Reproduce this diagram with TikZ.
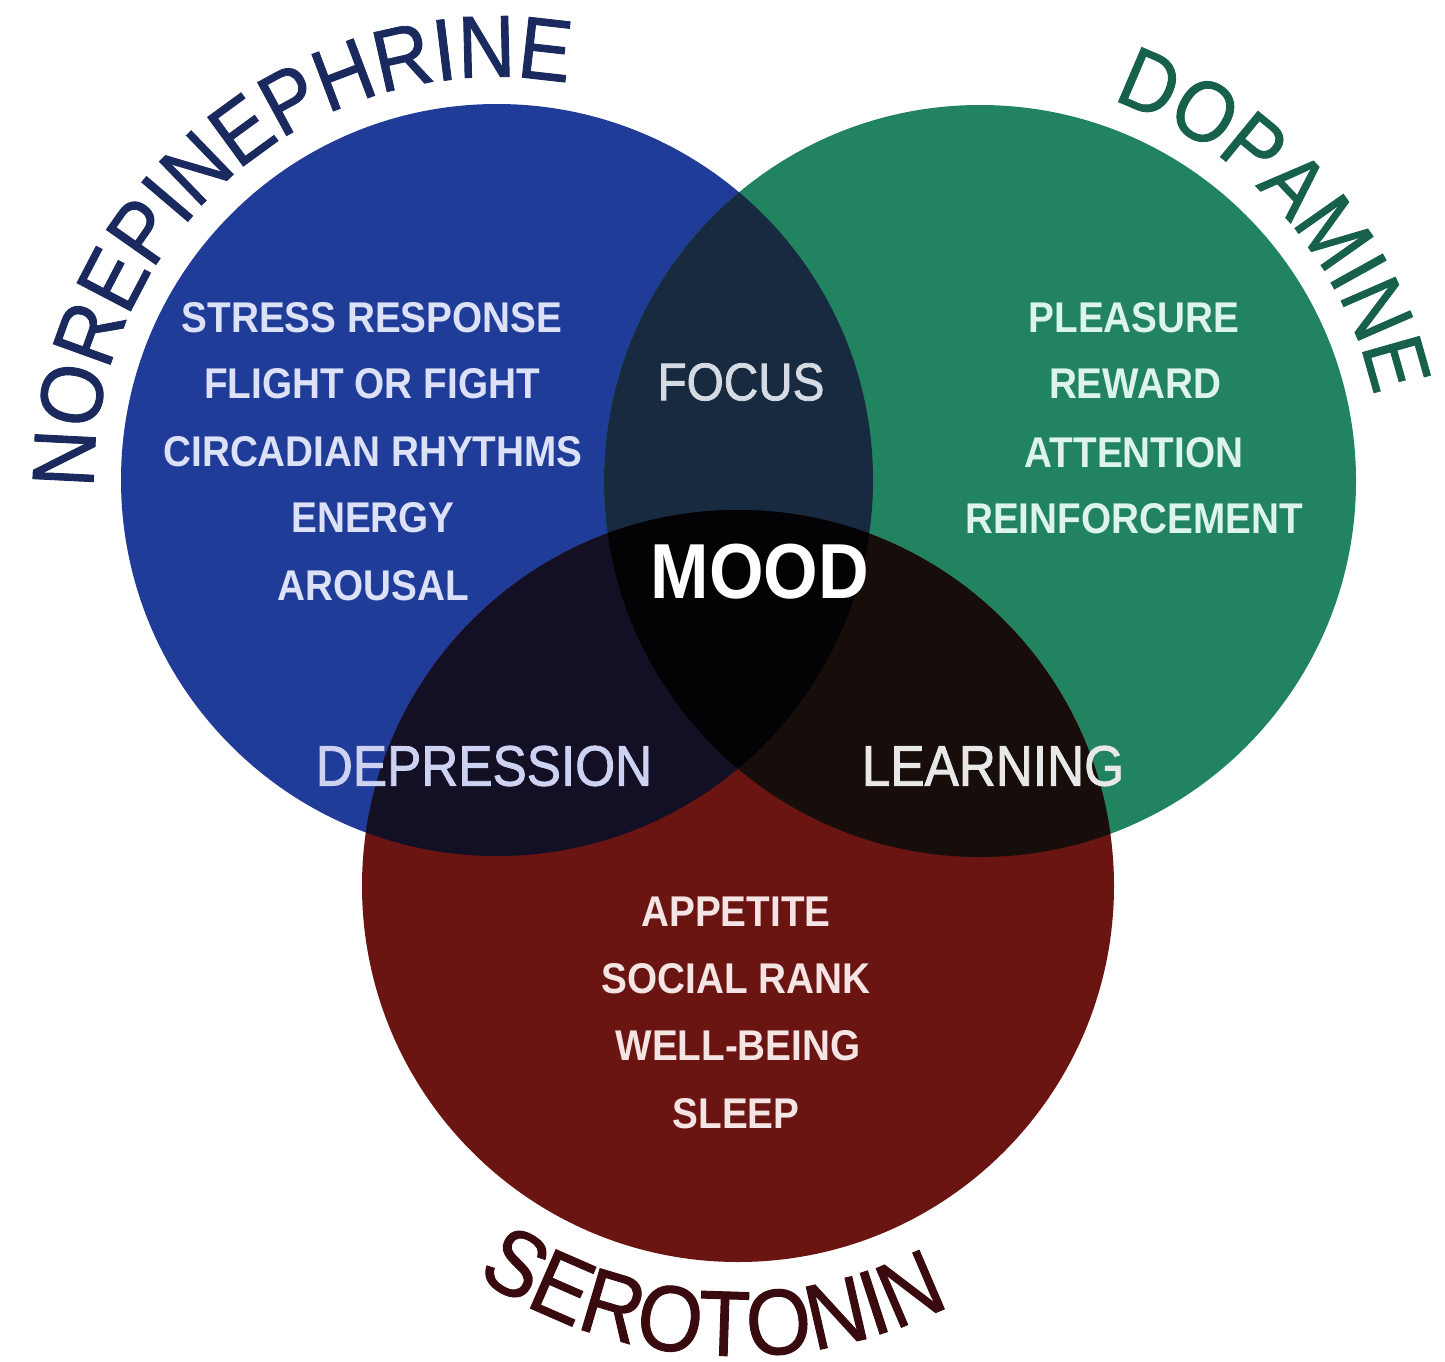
\documentclass[tikz,border=0pt]{standalone}
\usepackage{fontspec}
\usetikzlibrary{decorations.text}
\newfontfamily\lsreg[FakeStretch=0.9]{Liberation Sans}
\newfontfamily\lsmed[FakeStretch=0.9,FakeBold=1.5]{Liberation Sans}
\newfontfamily\lstitle[FakeStretch=0.9,FakeBold=1]{Liberation Sans}
\definecolor{cblue}{HTML}{1F3D98}
\definecolor{cgreen}{HTML}{21835F}
\definecolor{cred}{HTML}{6A1512}
\definecolor{cbg}{HTML}{172A40}
\definecolor{cbr}{HTML}{130F24}
\definecolor{cgr}{HTML}{170D0B}
\definecolor{ccenter}{HTML}{030305}
\definecolor{tnor}{HTML}{1B2A5E}
\definecolor{tdop}{HTML}{17604B}
\definecolor{tser}{HTML}{3A0B0E}
\definecolor{bltxt}{HTML}{DDE1F7}
\definecolor{grtxt}{HTML}{DCF4EA}
\definecolor{rdtxt}{HTML}{F5E4E4}
\definecolor{focustxt}{HTML}{D5DAE3}
\definecolor{deptxt}{HTML}{CDD1F2}
\definecolor{learntxt}{HTML}{E8E8E8}
\tikzset{
  listtxt/.style={inner sep=0pt, anchor=center, font=\lsreg\bfseries\fontsize{43}{43}\selectfont},
  bluelist/.style={listtxt, text=bltxt},
  greenlist/.style={listtxt, text=grtxt},
  redlist/.style={listtxt, text=rdtxt},
  midtxt/.style={inner sep=0pt, anchor=center, font=\lsmed\fontsize{57}{57}\selectfont},
}
\begin{document}
\begin{tikzpicture}[x=1pt,y=1pt]
\useasboundingbox (0,0) rectangle (1445,-1362);
\fill[white] (0,0) rectangle (1445,-1362);
\def\rad{376}
\coordinate (B) at (497,-480);
\coordinate (G) at (980,-481);
\coordinate (R) at (738,-886);
% circles
\fill[cblue] (B) circle[radius=\rad];
\fill[cgreen] (G) circle[radius=\rad];
\fill[cred] (R) circle[radius=\rad];
\begin{scope}
  \clip (B) circle[radius=\rad];
  \fill[cbg] (G) circle[radius=\rad];
\end{scope}
\begin{scope}
  \clip (B) circle[radius=\rad];
  \fill[cbr] (R) circle[radius=\rad];
\end{scope}
\begin{scope}
  \clip (G) circle[radius=\rad];
  \fill[cgr] (R) circle[radius=\rad];
\end{scope}
\begin{scope}
  \clip (B) circle[radius=\rad];
  \clip (G) circle[radius=\rad];
  \fill[ccenter] (R) circle[radius=\rad];
\end{scope}
% curved titles
\path[decorate, decoration={text along path, text align=center,
  text={|\lstitle\fontsize{88}{88}\selectfont\color{tnor}|NOREPINEPHRINE}}]
  (B) ++(195.5:403) arc[start angle=195.5, end angle=65.5, radius=403];
\path[decorate, decoration={text along path, text align=center,
  text={|\lstitle\fontsize{86}{86}\selectfont\color{tdop}|DOPAMINE}}]
  (G) ++(86.5:403) arc[start angle=86.5, end angle=-3.5, radius=403];
\path[decorate, decoration={text along path, text align=center,
  text={|\lstitle\fontsize{93}{93}\selectfont\color{tser}|SEROTONIN}}]
  (R) ++(226.5:470) arc[start angle=226.5, end angle=306.5, radius=470];
% blue list
\node[bluelist] (b1) at (372,-318) {STRESS RESPONSE};
\node[bluelist] (b2) at (372,-384) {FLIGHT OR FIGHT};
\node[bluelist] (b3) at (373,-452) {CIRCADIAN RHYTHMS};
\node[bluelist] (b4) at (373,-518) {ENERGY};
\node[bluelist] (b5) at (373,-586) {AROUSAL};
% green list
\node[greenlist] (g1) at (1134,-318) {PLEASURE};
\node[greenlist] (g2) at (1135,-384) {REWARD};
\node[greenlist] (g3) at (1134,-453) {ATTENTION};
\node[greenlist] (g4) at (1134,-519) {REINFORCEMENT};
% red list
\node[redlist] (r1) at (736,-912) {APPETITE};
\node[redlist] (r2) at (736,-979) {SOCIAL RANK};
\node[redlist] (r3) at (738,-1046) {WELL-BEING};
\node[redlist] (r4) at (736,-1114) {SLEEP};
% overlap labels
\node[midtxt, text=focustxt, font=\lsmed\fontsize{53}{53}\selectfont] (focus) at (741,-382) {FOCUS};
\node[inner sep=0pt, text=white, font=\lsreg\bfseries\fontsize{78}{78}\selectfont] (mood) at (760,-572) {MOOD};
\node[midtxt, text=deptxt] (dep) at (484,-766) {DEPRESSION};
\node[midtxt, text=learntxt] (learn) at (993,-766) {LEARNING};
\end{tikzpicture}
\end{document}
